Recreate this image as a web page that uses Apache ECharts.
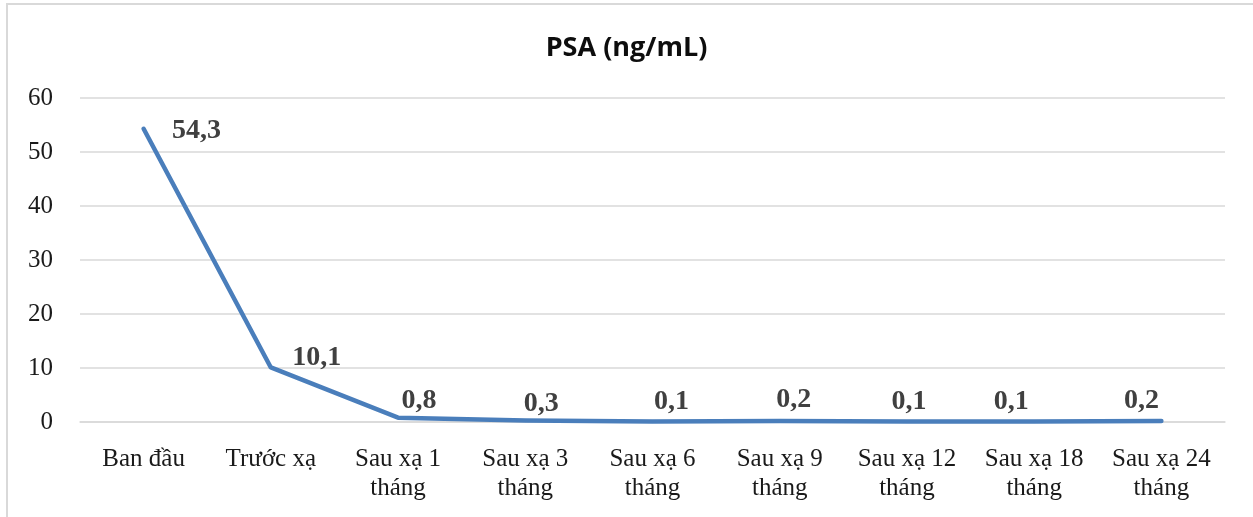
<!DOCTYPE html>
<html>
<head>
<meta charset="utf-8">
<script src="https://cdn.jsdelivr.net/npm/echarts@6/dist/echarts.min.js"></script>
<style>
  html, body { margin: 0; padding: 0; background: #fff; }
  #chart { width: 1253px; height: 517px; }
</style>
</head>
<body>
<div id="chart"></div>
<script>
// PSA follow-up: baseline, pre-radiation and months after radiation
const categories = [
  'Ban đầu', 'Trước xạ', 'Sau xạ 1\ntháng', 'Sau xạ 3\ntháng', 'Sau xạ 6\ntháng',
  'Sau xạ 9\ntháng', 'Sau xạ 12\ntháng', 'Sau xạ 18\ntháng', 'Sau xạ 24\ntháng'
];
const psaValues = [54.3, 10.1, 0.8, 0.3, 0.1, 0.2, 0.1, 0.1, 0.2];
const yTicks = [0, 10, 20, 30, 40, 50, 60];

// where each value label sits relative to its point
const labelOffsets = [
  [53, 2], [46, -10], [21, -17], [16, -17], [19, -20],
  [14, -21], [2, -20], [-23, -20], [-20, -20]
];

const fmt = v => String(v).replace('.', ',');

const chart = echarts.init(document.getElementById('chart'), null, { renderer: 'canvas' });
chart.setOption({
  animation: false,
  backgroundColor: '#ffffff',
  graphic: [{
    type: 'rect',
    shape: { x: 7, y: 4, width: 1260, height: 530 },
    style: { fill: 'none', stroke: '#d9d9d9', lineWidth: 2 },
    silent: true
  }],
  title: {
    text: 'PSA (ng/mL)',
    left: 'center',
    top: 30,
    textStyle: { fontFamily: 'Open Sans', fontWeight: 'bold', fontSize: 27, color: '#0d0d0d' }
  },
  grid: { left: 80, right: 28, top: 98, bottom: 95 },
  xAxis: {
    type: 'category',
    data: categories,
    boundaryGap: true,
    axisLine: { show: true, lineStyle: { color: '#d9d9d9', width: 1.5 } },
    axisTick: { show: false },
    axisLabel: {
      interval: 0,
      margin: 23,
      fontFamily: 'Liberation Serif',
      fontSize: 25,
      lineHeight: 29,
      color: '#1a1a1a'
    }
  },
  yAxis: {
    type: 'value',
    min: yTicks[0],
    max: yTicks[yTicks.length - 1],
    interval: 10,
    axisLine: { show: false },
    axisTick: { show: false },
    splitLine: { lineStyle: { color: '#d9d9d9', width: 1.5 } },
    axisLabel: {
      margin: 27,
      fontFamily: 'Liberation Serif',
      fontSize: 25,
      color: '#1a1a1a'
    }
  },
  series: [{
    type: 'line',
    data: psaValues.map((v, i) => ({
      value: v,
      label: { offset: labelOffsets[i] }
    })),
    symbol: 'circle',
    symbolSize: 1,
    showSymbol: true,
    itemStyle: { color: 'rgba(0,0,0,0)', borderWidth: 0 },
    lineStyle: { color: '#4a7ebb', width: 4.5, join: 'round', cap: 'round' },
    label: {
      show: true,
      position: 'inside',
      formatter: p => fmt(p.value),
      fontFamily: 'Liberation Serif',
      fontWeight: 'bold',
      fontSize: 28,
      color: '#404040'
    }
  }]
});
</script>
</body>
</html>
